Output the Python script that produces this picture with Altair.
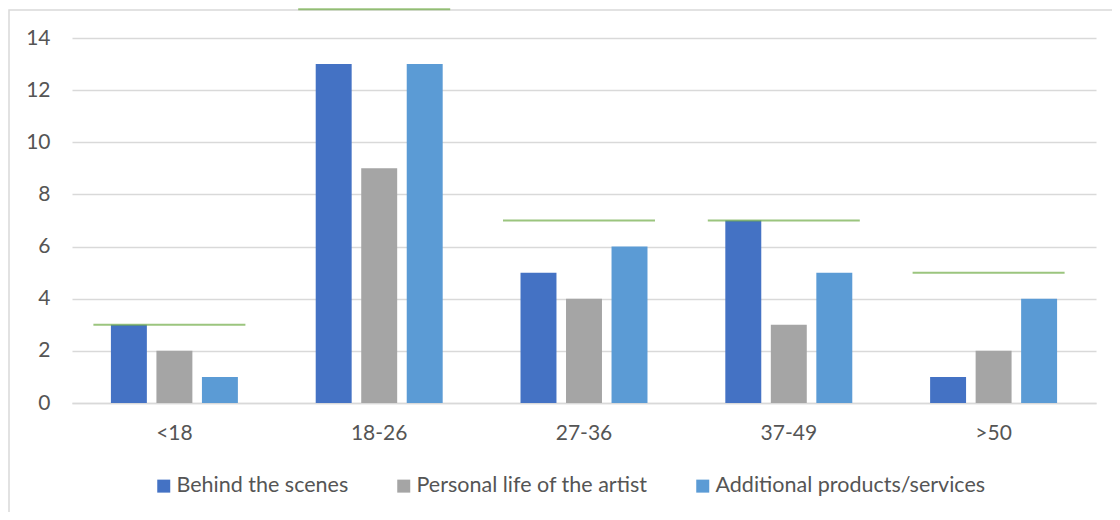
import altair as alt
import pandas as pd

age_groups = ["<18", "18-26", "27-36", "37-49", ">50"]
series_names = ["Behind the scenes", "Personal life of the artist", "Additional products/services"]
behind_the_scenes = [3, 13, 5, 7, 1]
personal_life = [2, 9, 4, 3, 2]
additional_products = [1, 13, 6, 5, 4]
green_marker = [3, 15.1, 7, 7, 5]
y_ticks = [0, 2, 4, 6, 8, 10, 12, 14]
colors = ["#4472C4", "#A5A5A5", "#5B9BD5"]

rows = []
for i, g in enumerate(age_groups):
    for s, vals in zip(series_names, [behind_the_scenes, personal_life, additional_products]):
        rows.append({"group": g, "series": s, "value": vals[i]})
bars_df = pd.DataFrame(rows)
marker_df = pd.DataFrame({"group": age_groups, "value": green_marker})

FONT = "Lato"
TXT = "#555555"

x_enc = alt.X("group:N", sort=age_groups,
              scale=alt.Scale(paddingInner=0.38, paddingOuter=0.19),
              axis=alt.Axis(title=None, labelAngle=0, labelFontSize=21, labelFont=FONT,
                            labelColor=TXT, labelPadding=19, ticks=False,
                            domain=True, domainColor="#d9d9d9", domainWidth=1.5, grid=False))
y_scale = alt.Scale(domain=[0, 14])

bars = alt.Chart(bars_df).mark_bar().encode(
    x=x_enc,
    xOffset=alt.XOffset("series:N", sort=series_names,
                        scale=alt.Scale(paddingInner=0.21, paddingOuter=0)),
    y=alt.Y("value:Q", scale=y_scale,
            axis=alt.Axis(title=None, values=y_ticks, labelFontSize=21, labelFont=FONT,
                          labelColor=TXT, labelPadding=22, ticks=False, domain=False,
                          grid=True, gridColor="#d9d9d9", gridWidth=1.5)),
    color=alt.Color("series:N", sort=series_names,
                    scale=alt.Scale(domain=series_names, range=colors),
                    legend=alt.Legend(title=None, orient="none", legendX=81, legendY=437,
                                      direction="horizontal", symbolType="square",
                                      symbolSize=169, symbolStrokeWidth=0,
                                      labelFontSize=21.5, labelFont=FONT, labelColor=TXT,
                                      labelLimit=0, labelOffset=2, columnPadding=44)),
)

markers = alt.Chart(marker_df).mark_tick(color="#70AD47", size=152, thickness=2,
                                         xOffset=-5).encode(
    x=alt.X("group:N", sort=age_groups),
    y=alt.Y("value:Q", scale=y_scale),
)

frame = alt.Chart(pd.DataFrame({"a": [0]})).mark_rect(
    fill="transparent", stroke="#d9d9d9", strokeWidth=1.5
).encode(x=alt.value(-63), x2=alt.value(1100), y=alt.value(-28), y2=alt.value(520))

chart = alt.layer(frame, bars, markers).properties(
    width=1024, height=365,
    autosize=alt.AutoSizeParams(type="none"),
    padding={"left": 64, "top": 30, "right": 16, "bottom": 109},
).configure_view(stroke=None)

chart.save("out.html", embed_options={"renderer": "svg", "actions": False})
